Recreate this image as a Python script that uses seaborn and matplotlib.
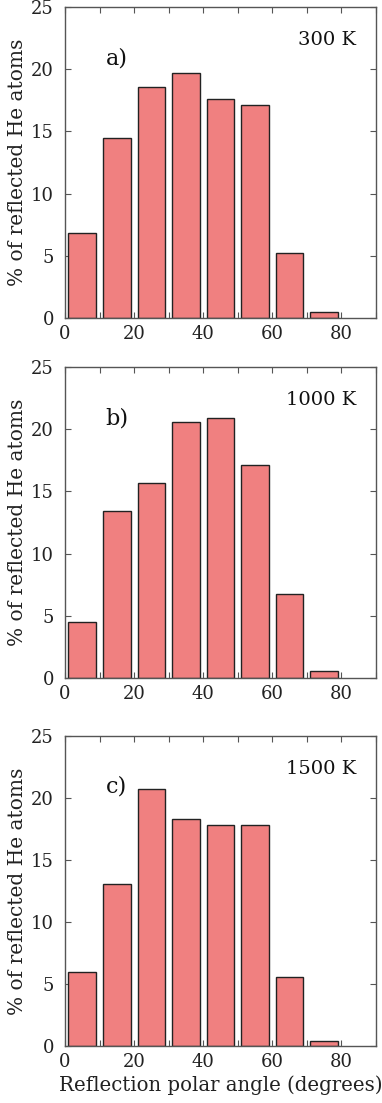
import matplotlib
matplotlib.use("Agg")
import matplotlib.pyplot as plt
import seaborn as sns
import pandas as pd

angles = [5, 15, 25, 35, 45, 55, 65, 75]
pct_300K = [6.8, 14.5, 18.6, 19.7, 17.6, 17.1, 5.25, 0.48]
pct_1000K = [4.5, 13.4, 15.7, 20.6, 20.9, 17.1, 6.75, 0.56]
pct_1500K = [6.0, 13.1, 20.7, 18.3, 17.8, 17.8, 5.6, 0.38]
panel_labels = ["a)", "b)", "c)"]
temp_labels = ["300 K", "1000 K", "1500 K"]
series = [pct_300K, pct_1000K, pct_1500K]

sns.set_theme(style="ticks")
plt.rcParams['font.family'] = ['DejaVu Serif']
plt.rcParams['xtick.direction'] = 'in'
plt.rcParams['ytick.direction'] = 'in'

W, H = 382, 1103
fig = plt.figure(figsize=(W / 100, H / 100), dpi=100)

tops = [7, 367, 736]
bottoms = [318, 678, 1046]
left, right = 65, 376

for i in range(3):
    ax = fig.add_axes([left / W, 1 - bottoms[i] / H, (right - left) / W, (bottoms[i] - tops[i]) / H])
    df = pd.DataFrame({"angle": angles, "pct": series[i]})
    sns.barplot(data=df, x="angle", y="pct", native_scale=True, width=0.8,
                color="#F08080", saturation=1, edgecolor="#222222", linewidth=1.0, ax=ax)
    ax.set_xlim(0, 90)
    ax.set_ylim(0, 25)
    ax.set_xticks([0, 20, 40, 60, 80])
    ax.set_xticks(range(0, 91, 10), minor=True)
    ax.set_yticks([0, 5, 10, 15, 20, 25])
    ax.tick_params(which='both', top=True, right=True, direction='in', length=4, width=0.8,
                   color="#555555", labelsize=13, labelcolor="#222222")
    ax.tick_params(axis='y', pad=8)
    ax.tick_params(axis='x', pad=5)
    for s in ax.spines.values():
        s.set_color("#555555")
        s.set_linewidth(1.0)
    ax.set_ylabel("% of reflected He atoms", fontsize=14.5, color="#222222", labelpad=3)
    if i == 2:
        ax.set_xlabel("Reflection polar angle (degrees)", fontsize=14.2, color="#222222", labelpad=3)
    else:
        ax.set_xlabel("")
    ax.text(0.13, 0.836, panel_labels[i], transform=ax.transAxes, fontsize=16,
            va='center', ha='left', color="#111111")
    ax.text(0.935, 0.894, temp_labels[i], transform=ax.transAxes, fontsize=14,
            va='center', ha='right', color="#111111")

fig.savefig("out.png", dpi=100)
